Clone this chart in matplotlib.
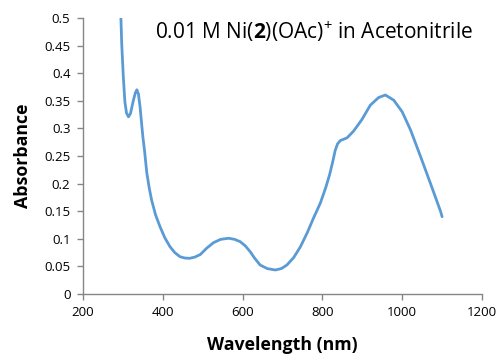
import matplotlib
matplotlib.use("Agg")
import matplotlib.pyplot as plt
from matplotlib.ticker import FuncFormatter

# UV-vis-NIR spectrum of Ni(2)(OAc)+ in acetonitrile
wavelength = [292, 295, 297, 301, 305, 309, 314, 319, 326, 331, 335, 339, 343, 347, 350,
              354, 360, 366, 372, 382, 393, 405, 418, 430, 443, 455, 467, 480, 494,
              510, 527, 545, 565, 580, 594, 607, 619, 630, 644, 662, 682, 697, 711,
              728, 745, 762, 778, 795, 808, 818, 826, 832, 838, 845, 852, 862, 878,
              899, 920, 941, 958, 979, 1000, 1021, 1046, 1071, 1096, 1100]
absorbance = [0.53, 0.50, 0.454, 0.394, 0.348, 0.328, 0.321, 0.327, 0.350, 0.364, 0.370, 0.362,
              0.339, 0.308, 0.285, 0.261, 0.219, 0.192, 0.170, 0.143, 0.122, 0.102, 0.0857,
              0.075, 0.0676, 0.0652, 0.0646, 0.0668, 0.0715, 0.083, 0.093, 0.099, 0.101,
              0.099, 0.0948, 0.087, 0.0767, 0.065, 0.0525, 0.046, 0.0435, 0.046, 0.0525,
              0.066, 0.0857, 0.111, 0.138, 0.165, 0.192, 0.216, 0.240, 0.260, 0.272, 0.278,
              0.280, 0.283, 0.295, 0.316, 0.342, 0.356, 0.3605, 0.351, 0.330, 0.297, 0.249,
              0.200, 0.150, 0.14]

x_ticks = [200, 400, 600, 800, 1000, 1200]
y_ticks = [0, 0.05, 0.1, 0.15, 0.2, 0.25, 0.3, 0.35, 0.4, 0.45, 0.5]

plt.rcParams['font.family'] = ['Open Sans', 'DejaVu Sans']
plt.rcParams['mathtext.fontset'] = 'custom'
plt.rcParams['mathtext.rm'] = 'Open Sans'
plt.rcParams['mathtext.bf'] = 'Open Sans:bold'

axis_grey = '#868686'
line_blue = '#5b9bd5'

fig = plt.figure(figsize=(5.02, 3.56), dpi=100)
ax = fig.add_axes([83 / 502, 1 - 294 / 356, (482 - 83) / 502, (294 - 18) / 356])

ax.plot(wavelength, absorbance, color=line_blue, lw=2.0, solid_capstyle='round',
        solid_joinstyle='round')

ax.set_xlim(200, 1200)
ax.set_ylim(0, 0.5)
ax.set_xticks(x_ticks)
ax.set_yticks(y_ticks)
ax.yaxis.set_major_formatter(FuncFormatter(lambda v, p: f"{v:g}"))

for side in ('top', 'right'):
    ax.spines[side].set_visible(False)
for side in ('left', 'bottom'):
    ax.spines[side].set_color(axis_grey)
    ax.spines[side].set_linewidth(1.0)
ax.tick_params(axis='both', direction='out', length=4, width=1.0, color=axis_grey,
               labelsize=9.5, labelcolor='#000000', pad=5)

ax.set_xlabel('Wavelength (nm)', fontsize=12.8, fontweight='bold', labelpad=12)
ax.set_ylabel('Absorbance', fontsize=12.8, fontweight='bold', labelpad=9)

fig.text(473 / 502, 1 - 32 / 356,
         r"0.01 M Ni($\mathbf{2}$)(OAc)$^{+}$ in Acetonitrile",
         ha='right', va='center', fontsize=15)

fig.savefig('out.png', dpi=100)
